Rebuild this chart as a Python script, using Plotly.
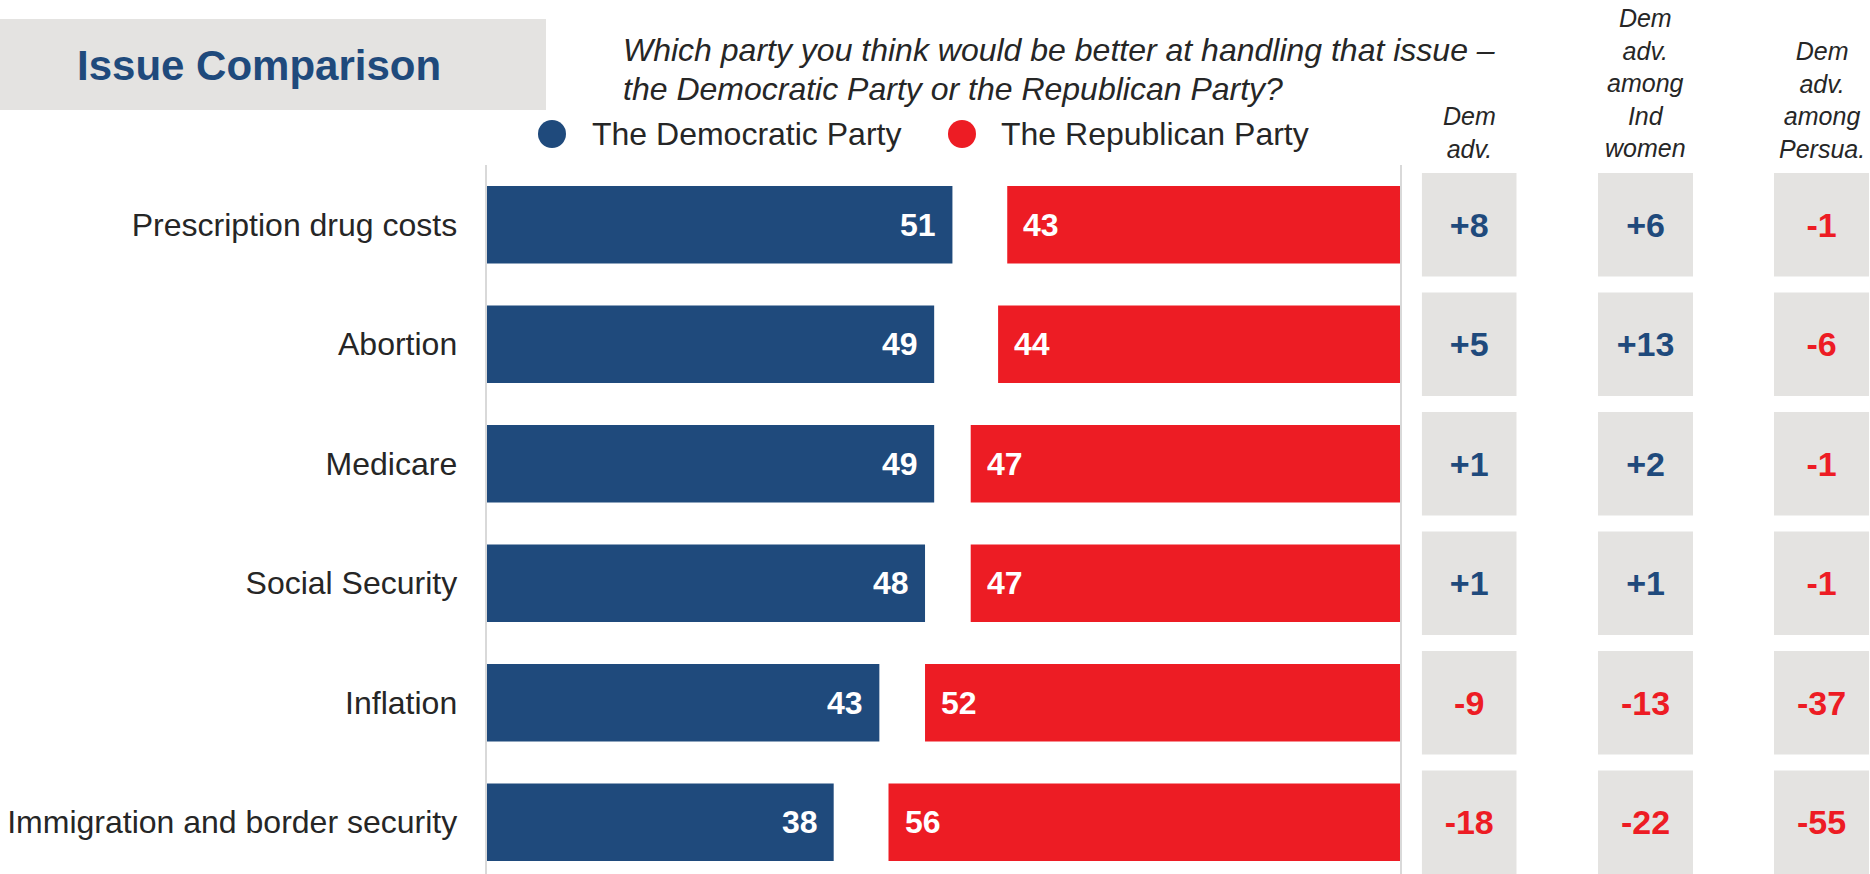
import plotly.graph_objects as go

# ---------------- data ----------------
categories = [
    "Prescription drug costs",
    "Abortion",
    "Medicare",
    "Social Security",
    "Inflation",
    "Immigration and border security",
]
democratic = [51, 49, 49, 48, 43, 38]
republican = [43, 44, 47, 47, 52, 56]

dem_adv = [8, 5, 1, 1, -9, -18]
dem_adv_ind_women = [6, 13, 2, 1, -13, -22]
dem_adv_persuadables = [-1, -6, -1, -1, -37, -55]

column_headers = [
    "Dem<br>adv.",
    "Dem<br>adv.<br>among<br>Ind<br>women",
    "Dem<br>adv.<br>among<br>Persua.",
]
title_text = "Issue Comparison"
question_lines = [
    "Which party you think would be better at handling that issue \u2013",
    "the Democratic Party or the Republican Party?",
]
legend_names = ["The Democratic Party", "The Republican Party"]

# ---------------- style ----------------
W, H = 1870, 874
FONT = "Liberation Sans, Arial, sans-serif"
BLUE = "#1F4A7C"
RED = "#ED1C24"
GREY = "#E4E3E1"
TEXT = "#262626"
LINE = "#D9D9D9"


def px(x):
    return x / W


def py(y):
    return 1 - y / H


fig = go.Figure()

# main diverging bars
fig.add_trace(go.Bar(
    y=categories, x=democratic, orientation="h", width=0.65,
    marker=dict(color=BLUE, line=dict(width=0)), hoverinfo="skip",
    xaxis="x", yaxis="y", name=legend_names[0],
))
fig.add_trace(go.Bar(
    y=categories, x=republican, base=[100 - r for r in republican],
    orientation="h", width=0.65,
    marker=dict(color=RED, line=dict(width=0)), hoverinfo="skip",
    xaxis="x", yaxis="y", name=legend_names[1],
))

annotations = []
for cat, d, r in zip(categories, democratic, republican):
    annotations.append(dict(
        x=d, y=cat, xref="x", yref="y", text=str(d), showarrow=False,
        xanchor="right", xshift=-14,
        font=dict(family=FONT, size=32, color="white", weight="bold"),
    ))
    annotations.append(dict(
        x=100 - r, y=cat, xref="x", yref="y", text=str(r), showarrow=False,
        xanchor="left", xshift=14,
        font=dict(family=FONT, size=32, color="white", weight="bold"),
    ))

# right-hand advantage columns
columns = [dem_adv, dem_adv_ind_women, dem_adv_persuadables]
col_domains = [(1421.7, 1516.7), (1598, 1693), (1774, 1869)]
header_y = [132.5, 83, 99.5]
for i, vals in enumerate(columns):
    ax = f"x{i + 2}"
    fig.add_trace(go.Bar(
        y=categories, x=[1] * len(vals), orientation="h", width=0.865,
        marker=dict(color=GREY, line=dict(width=0)), hoverinfo="skip",
        text=[f"{v:+d}" for v in vals], textposition="inside",
        insidetextanchor="middle", cliponaxis=False,
        textfont=dict(family=FONT, size=34, weight="bold",
                      color=[BLUE if v > 0 else RED for v in vals]),
        xaxis=ax, yaxis="y",
    ))
    d0, d1 = col_domains[i]
    annotations.append(dict(
        x=px((d0 + d1) / 2), y=py(header_y[i]), xref="paper", yref="paper",
        text=f"<i>{column_headers[i]}</i>", showarrow=False,
        xanchor="center", yanchor="middle", align="center",
        font=dict(family=FONT, size=25, color=TEXT),
    ))

# title, question and legend
annotations += [
    dict(x=px(259), y=py(66), xref="paper", yref="paper", text=title_text,
         showarrow=False, xanchor="center", yanchor="middle",
         font=dict(family=FONT, size=42, color=BLUE, weight="bold")),
    dict(x=px(621), y=py(50), xref="paper", yref="paper",
         text=f"<i>{question_lines[0]}</i>", showarrow=False,
         xanchor="left", yanchor="middle", align="left",
         font=dict(family=FONT, size=32, color=TEXT)),
    dict(x=px(621), y=py(89), xref="paper", yref="paper",
         text=f"<i>{question_lines[1]}</i>", showarrow=False,
         xanchor="left", yanchor="middle", align="left",
         font=dict(family=FONT, size=32, color=TEXT)),
    dict(x=px(590), y=py(134), xref="paper", yref="paper", text=legend_names[0],
         showarrow=False, xanchor="left", yanchor="middle",
         font=dict(family=FONT, size=32, color=TEXT)),
    dict(x=px(999), y=py(134), xref="paper", yref="paper", text=legend_names[1],
         showarrow=False, xanchor="left", yanchor="middle",
         font=dict(family=FONT, size=32, color=TEXT)),
]

shapes = [
    dict(type="rect", xref="paper", yref="paper", x0=0, x1=px(546),
         y0=py(110), y1=py(19), fillcolor=GREY, line=dict(width=0), layer="below"),
    dict(type="circle", xref="paper", yref="paper", x0=px(538), x1=px(566),
         y0=py(148), y1=py(120), fillcolor=BLUE, line=dict(width=0)),
    dict(type="circle", xref="paper", yref="paper", x0=px(948), x1=px(976),
         y0=py(148), y1=py(120), fillcolor=RED, line=dict(width=0)),
]

hidden = dict(visible=False, showgrid=False, zeroline=False, fixedrange=True)
fig.update_layout(
    width=W, height=H,
    margin=dict(l=0, r=0, t=0, b=0, pad=0),
    paper_bgcolor="white", plot_bgcolor="rgba(0,0,0,0)",
    showlegend=False, barmode="overlay",
    font=dict(family=FONT, color=TEXT),
    xaxis=dict(domain=[px(486.6), px(1400)], range=[0, 100], anchor="y", **hidden),
    xaxis2=dict(domain=[px(col_domains[0][0]), px(col_domains[0][1])], range=[0, 1], anchor="y", **hidden),
    xaxis3=dict(domain=[px(col_domains[1][0]), px(col_domains[1][1])], range=[0, 1], anchor="y", **hidden),
    xaxis4=dict(domain=[px(col_domains[2][0]), px(col_domains[2][1])], range=[0, 1], anchor="y", **hidden),
    yaxis=dict(
        domain=[0, py(165)], type="category", categoryorder="array",
        categoryarray=categories, range=[5.433, -0.5], anchor="x",
        showline=True, linecolor=LINE, linewidth=2, mirror=True,
        showgrid=False, zeroline=False, ticks="", ticklabelstandoff=21,
        tickfont=dict(family=FONT, size=32, color=TEXT), fixedrange=True,
    ),
    annotations=annotations,
    shapes=shapes,
)

fig.write_html(
    "out.html",
    config={"displayModeBar": False},
    post_script="document.body.style.margin='0';document.body.style.overflow='hidden';",
)
